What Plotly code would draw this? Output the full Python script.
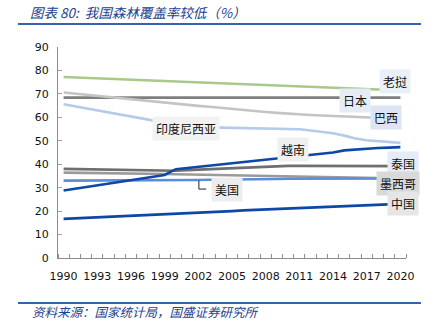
import plotly.graph_objects as go

years = list(range(1990, 2021))

laos = [77.2, 77.0, 76.8, 76.6, 76.4, 76.3, 76.1, 75.9, 75.7, 75.5, 75.3,
        75.1, 74.9, 74.8, 74.6, 74.4, 74.2, 74.0, 73.8, 73.6, 73.4,
        73.3, 73.1, 72.9, 72.7, 72.5, 72.3, 72.1, 71.9, 71.8, 71.6]
japan = [68.4] * 31
brazil = [70.6, 70.1, 69.6, 69.2, 68.7, 68.2, 67.8, 67.3, 66.8, 66.3, 65.9,
          65.4, 64.9, 64.5, 64.0, 63.6, 63.1, 62.7, 62.3, 61.9, 61.5,
          61.3, 61.0, 60.8, 60.6, 60.3, 60.1, 59.9, 59.7, 59.6, 59.4]
indonesia = [65.6, 64.7, 63.8, 63.0, 62.1, 61.2, 60.4, 59.5, 58.6, 57.8, 56.9,
             56.3, 55.9, 55.7, 55.6, 55.5, 55.5, 55.4, 55.4, 55.3, 55.2,
             54.9, 54.4, 53.8, 53.2, 52.2, 51.0, 50.2, 49.8, 49.4, 49.1]
vietnam = [28.8, 29.5, 30.2, 30.9, 31.6, 32.3, 33.1, 33.8, 34.5, 35.4, 37.9,
           38.4, 38.9, 39.5, 40.0, 40.5, 41.0, 41.5, 42.1, 42.6, 43.1,
           43.6, 44.1, 44.6, 45.0, 45.9, 46.3, 46.6, 46.9, 47.1, 47.3]
thailand = [38.0, 37.9, 37.8, 37.7, 37.6, 37.5, 37.4, 37.4, 37.3, 37.3, 37.2,
            37.5, 37.7, 38.0, 38.2, 38.5, 38.7, 38.9, 39.1, 39.2, 39.3,
            39.3, 39.3, 39.3, 39.3, 39.3, 39.3, 39.3, 39.2, 39.2, 39.2]
mexico = [36.4, 36.3, 36.3, 36.2, 36.2, 36.1, 36.1, 36.0, 35.9, 35.8, 35.7,
          35.6, 35.5, 35.4, 35.3, 35.2, 35.1, 35.0, 34.9, 34.8, 34.7,
          34.6, 34.6, 34.5, 34.4, 34.3, 34.3, 34.2, 34.1, 34.1, 34.0]
usa = [33.0, 33.0, 33.0, 33.1, 33.1, 33.1, 33.1, 33.2, 33.2, 33.2, 33.2,
       33.3, 33.3, 33.4, 33.4, 33.5, 33.5, 33.6, 33.6, 33.7, 33.8,
       33.8, 33.8, 33.8, 33.8, 33.9, 33.9, 33.9, 33.9, 33.9, 33.9]
china = [16.7, 16.9, 17.1, 17.3, 17.5, 17.7, 17.9, 18.1, 18.3, 18.5, 18.8,
         19.0, 19.3, 19.5, 19.8, 20.0, 20.3, 20.5, 20.8, 21.0, 21.3,
         21.5, 21.7, 21.9, 22.1, 22.3, 22.5, 22.7, 22.9, 23.0, 23.1]

series = [
    ("老挝", laos, "#A9C98A"),
    ("日本", japan, "#7F7F7F"),
    ("巴西", brazil, "#C4C4C4"),
    ("印度尼西亚", indonesia, "#B6CAEB"),
    ("泰国", thailand, "#6F6F6F"),
    ("墨西哥", mexico, "#9A9A9A"),
    ("美国", usa, "#5B8ED8"),
    ("越南", vietnam, "#0E48A6"),
    ("中国", china, "#0E48A6"),
]

x_ticks = list(range(1990, 2021, 3))

# label name, x (year), y (value), background
labels = [
    ("老挝", 2019.55, 75.1, "#EAF0F8"),
    ("日本", 2016.0, 67.0, "#E6ECF5"),
    ("巴西", 2018.7, 60.0, "#DCE5F1"),
    ("印度尼西亚", 2000.9, 55.3, "#F2F2F2"),
    ("越南", 2010.4, 46.4, "#F0F0F0"),
    ("泰国", 2020.2, 40.4, "#E4ECF7"),
    ("墨西哥", 2019.8, 31.9, "#D9D9D9"),
    ("美国", 2004.55, 29.1, "#EDEDED"),
    ("中国", 2020.2, 23.1, "#E6E6E6"),
]

fig = go.Figure()
for name, vals, col in series:
    fig.add_trace(go.Scatter(x=years, y=vals, mode="lines", name=name,
                             line=dict(color=col, width=2.6), showlegend=False))

cjk = "Noto Sans CJK SC"
for name, lx, ly, bg in labels:
    fig.add_annotation(x=lx, y=ly, xref="x", yref="y", text=name, showarrow=False,
                       font=dict(family=cjk, size=12, color="#111111"),
                       bgcolor=bg, borderpad=3)

# leader line for 美国
fig.add_shape(type="path", xref="x", yref="y",
              path="M 2002.05,33.0 L 2002.05,29.4 L 2002.7,29.4",
              line=dict(color="#222222", width=1))

W, H = 434, 323
ml, mr, mt, mb = 58, 28, 47, 65
pw, ph = W - ml - mr, H - mt - mb

def px2paper(px, py):
    return (px - ml) / pw, 1 - (py - mt) / ph

tx, ty = px2paper(28, 12)
fig.add_annotation(x=tx, y=ty, xref="paper", yref="paper", text="图表 80:  我国森林覆盖率较低（%）",
                   showarrow=False, xanchor="left", yanchor="middle",
                   font=dict(family=cjk, size=13.5, color="#24418F", style="italic"))
sx, sy = px2paper(30, 311.5)
fig.add_annotation(x=sx, y=sy, xref="paper", yref="paper", text="资料来源：国家统计局，国盛证券研究所",
                   showarrow=False, xanchor="left", yanchor="middle",
                   font=dict(family=cjk, size=12.5, color="#24418F", style="italic"))

for ly in (24, 303):
    x0, y0 = px2paper(18, ly)
    x1, _ = px2paper(421, ly)
    fig.add_shape(type="line", xref="paper", yref="paper", x0=x0, x1=x1, y0=y0, y1=y0,
                  line=dict(color="#3563B0", width=2))

fig.update_layout(
    width=W, height=H, margin=dict(l=ml, r=mr, t=mt, b=mb),
    paper_bgcolor="white", plot_bgcolor="white",
    font=dict(family="DejaVu Sans", size=11, color="#111111"),
)
fig.update_xaxes(range=[1989.5, 2020.5], tickmode="array", tickvals=x_ticks,
                 ticks="", showgrid=False, zeroline=False,
                 showline=True, linecolor="#8C8C8C", linewidth=1,
                 ticklabelstandoff=8,
                 minor=dict(tickmode="linear", tick0=1989.5, dtick=1, ticks="inside",
                            ticklen=4, tickcolor="#8C8C8C", showgrid=False))
fig.update_yaxes(range=[0, 90], tickmode="linear", tick0=0, dtick=10,
                 ticks="inside", ticklen=4, tickcolor="#A0A0A0",
                 showgrid=False, zeroline=False,
                 showline=True, linecolor="#8C8C8C", linewidth=1,
                 ticklabelstandoff=6)

fig.write_html("out.html")
